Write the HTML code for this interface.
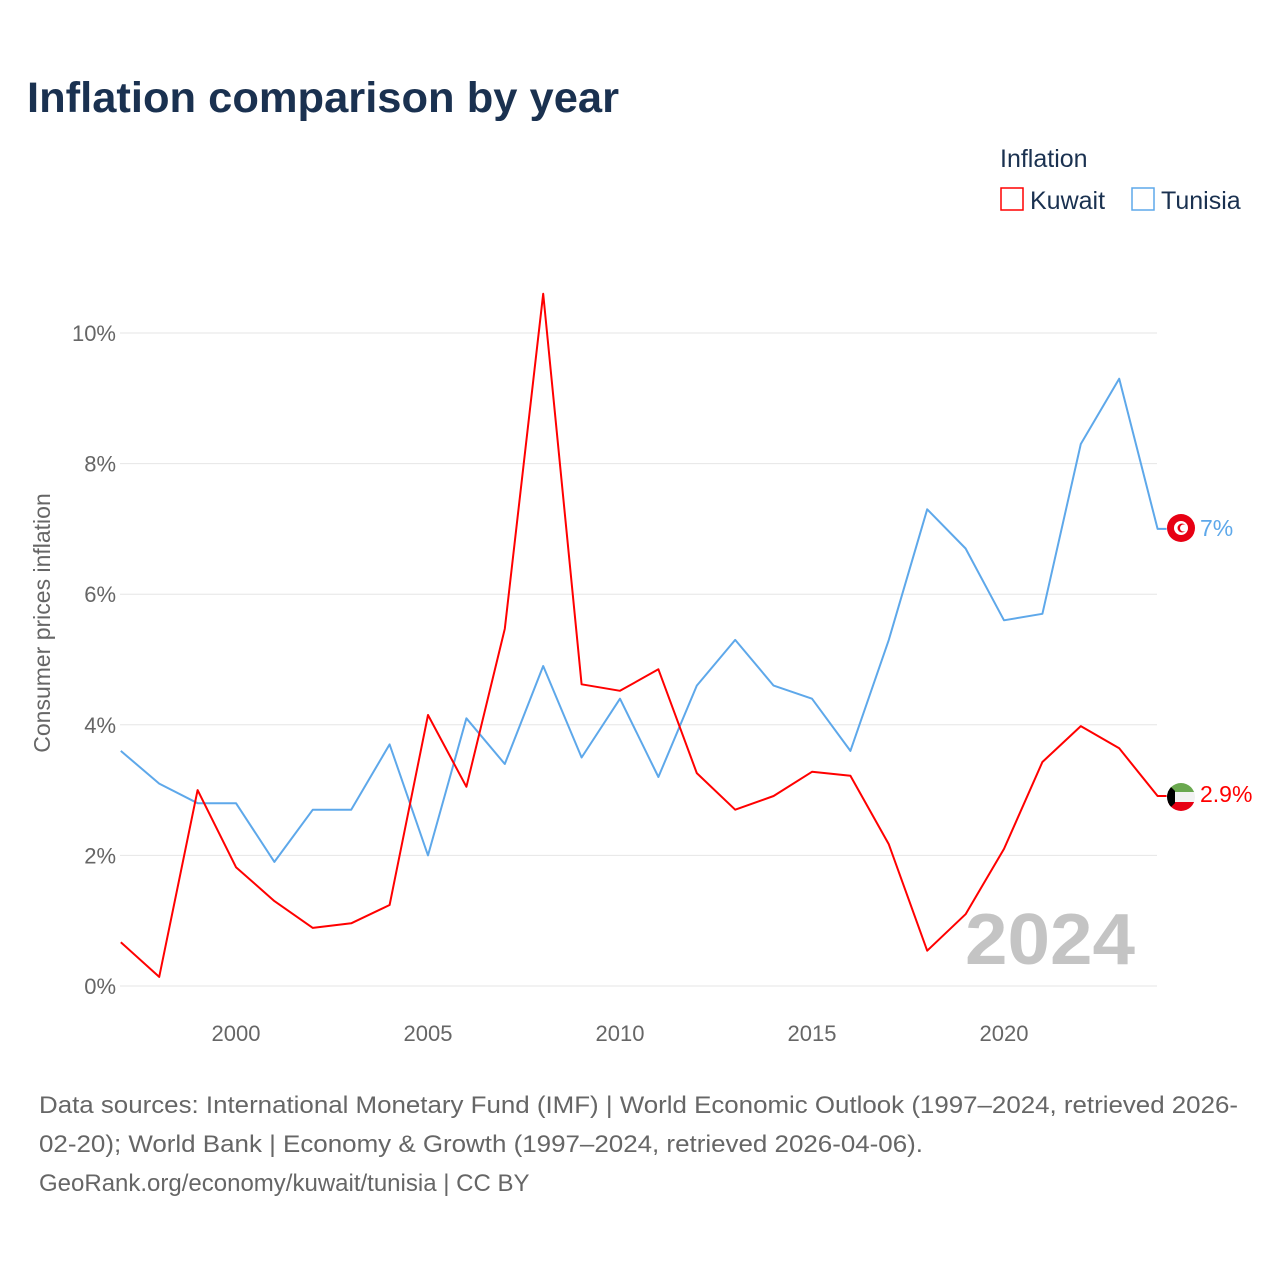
<!DOCTYPE html>
<html><head><meta charset="utf-8"><style>
body{margin:0;background:#fff;font-family:"Liberation Sans",sans-serif;}
svg text{font-family:"Liberation Sans",sans-serif;}
</style></head><body>
<svg id="c" width="1280" height="1280" xmlns="http://www.w3.org/2000/svg">
<rect width="1280" height="1280" fill="#fff"/>
<text x="27" y="112" font-size="43" font-weight="bold" fill="#1a3150" textLength="592" lengthAdjust="spacingAndGlyphs">Inflation comparison by year</text>
<text x="1000" y="167" font-size="25" fill="#1a3150">Inflation</text>
<g><rect x="1001" y="188" width="22" height="22" fill="none" stroke="#ff0000" stroke-width="1.5"/><text x="1030" y="209" font-size="25" fill="#1a3150">Kuwait</text></g>
<g><rect x="1132" y="188" width="22" height="22" fill="none" stroke="#5ea8ea" stroke-width="1.5"/><text x="1161" y="209" font-size="25" fill="#1a3150">Tunisia</text></g>
<text transform="translate(50,623) rotate(-90)" text-anchor="middle" font-size="23" fill="#666">Consumer prices inflation</text>
<text x="1135" y="964" text-anchor="end" font-size="72" font-weight="bold" fill="#c4c4c4" textLength="170" lengthAdjust="spacingAndGlyphs">2024</text>
<g id="grid"></g><g id="lines"></g>
<g>
<circle cx="1181" cy="528" r="14" fill="#e70013"/><circle cx="1181" cy="528" r="7" fill="#fff"/><circle cx="1182" cy="528" r="4.5" fill="#e70013"/><circle cx="1183.5" cy="528" r="3.5" fill="#fff"/>
<text x="1200" y="536" font-size="23" fill="#5ea8ea">7%</text></g>
<g>
<clipPath id="kc"><circle cx="1181" cy="797" r="14"/></clipPath>
<g clip-path="url(#kc)"><rect x="1166" y="782" width="30" height="10" fill="#6aa84f"/><rect x="1166" y="792" width="30" height="10" fill="#f2f2f2"/><rect x="1166" y="802" width="30" height="10" fill="#e70013"/><polygon points="1166,782 1175,791 1175,803 1166,812" fill="#000"/></g>
<text x="1200" y="802" font-size="23" fill="#ff0000">2.9%</text></g>
<text x="39" y="1113" font-size="24" fill="#666" textLength="1199" lengthAdjust="spacingAndGlyphs">Data sources: International Monetary Fund (IMF) | World Economic Outlook (1997–2024, retrieved 2026-</text>
<text x="39" y="1152" font-size="24" fill="#666" textLength="884" lengthAdjust="spacingAndGlyphs">02-20); World Bank | Economy &amp; Growth (1997–2024, retrieved 2026-04-06).</text>
<text x="39" y="1191" font-size="24" fill="#666">GeoRank.org/economy/kuwait/tunisia | CC BY</text>
</svg>
<script>
const years=[1997,1998,1999,2000,2001,2002,2003,2004,2005,2006,2007,2008,2009,2010,2011,2012,2013,2014,2015,2016,2017,2018,2019,2020,2021,2022,2023,2024];
const kuwait=[0.67,0.14,3.0,1.82,1.3,0.89,0.96,1.24,4.15,3.05,5.47,10.6,4.62,4.52,4.85,3.26,2.7,2.91,3.28,3.22,2.17,0.54,1.1,2.1,3.43,3.98,3.64,2.91];
const tunisia=[3.6,3.1,2.8,2.8,1.9,2.7,2.7,3.7,2.0,4.1,3.4,4.9,3.5,4.4,3.2,4.6,5.3,4.6,4.4,3.6,5.3,7.3,6.7,5.6,5.7,8.3,9.3,7.0];
const yTicks=[0,2,4,6,8,10];
const xTicks=[2000,2005,2010,2015,2020];
const X=y=>236+(y-2000)*38.4;
const Y=v=>986-v*65.3;
const ns="http://www.w3.org/2000/svg";
const grid=document.getElementById('grid'),lines=document.getElementById('lines');
function mk(t,a,p){const e=document.createElementNS(ns,t);for(const k in a)e.setAttribute(k,a[k]);p.appendChild(e);return e;}
yTicks.forEach(v=>{
 const l=mk('line',{x1:120,x2:1157,y1:Y(v),y2:Y(v),stroke:'#e6e6e6','stroke-width':1},grid);
 
 
 const t=mk('text',{x:116,y:Y(v)+8,'text-anchor':'end','font-size':22,fill:'#666'},grid);
 t.textContent=v+'%';
 
 
});
xTicks.forEach(v=>{
 const t=mk('text',{x:X(v),y:1041,'text-anchor':'middle','font-size':22,fill:'#666'},grid);
 t.textContent=v;
 
 
});
function series(d,c,n){
 let p=d.map((v,i)=>(i?'L':'M')+X(years[i]).toFixed(1)+','+Y(v).toFixed(1)).join('');
 p+='L'+(X(years[years.length-1])+9)+','+Y(d[d.length-1]).toFixed(1);
 const e=mk('path',{d:p,fill:'none',stroke:c,'stroke-width':2,'stroke-linejoin':'round'},lines);
 
 
}
series(tunisia,'#5ea8ea','tunisia-line');
series(kuwait,'#ff0000','kuwait-line');
</script>
</body></html>
